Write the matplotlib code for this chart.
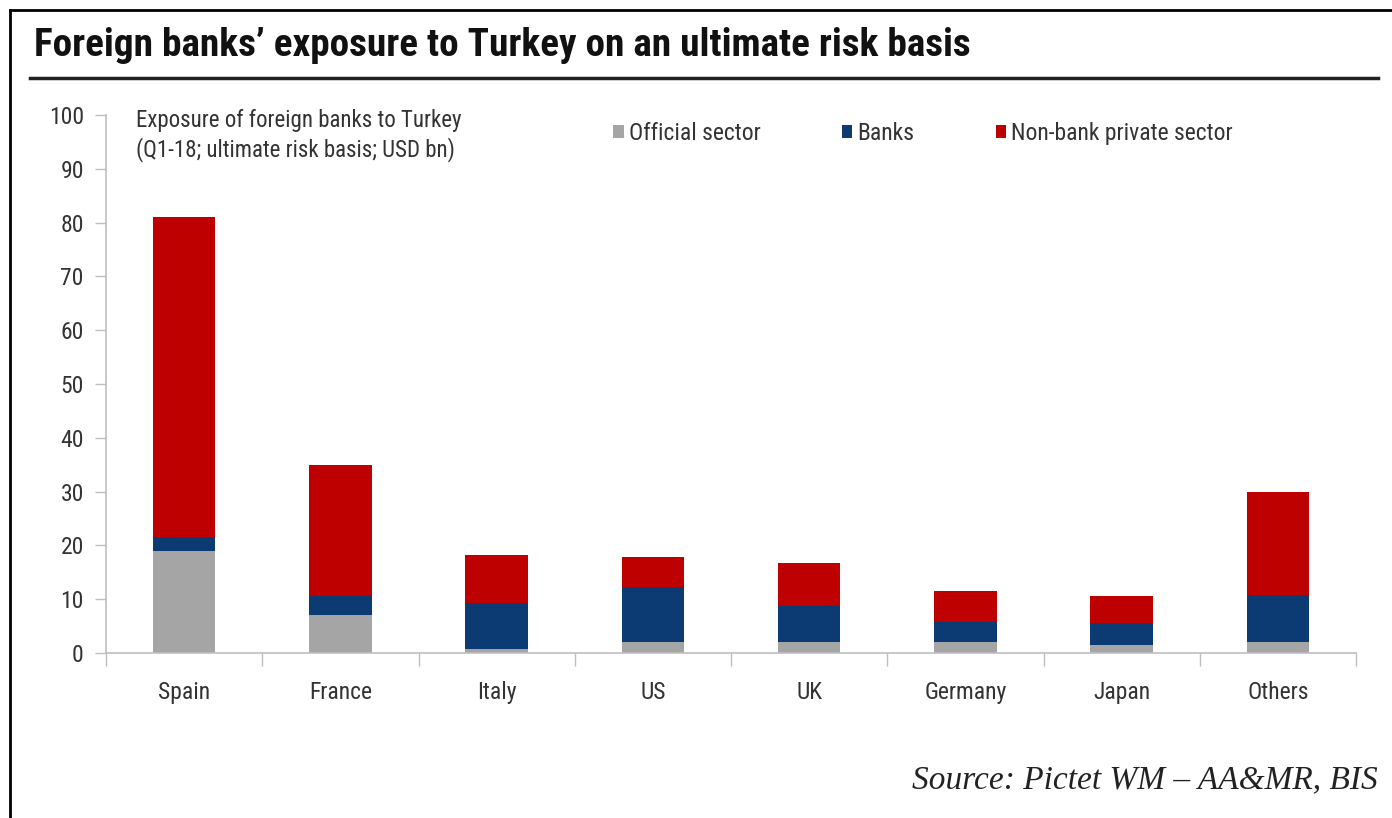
import matplotlib.pyplot as plt
import numpy as np
from matplotlib.lines import Line2D

# exposure of foreign banks to Turkey, Q1-18, USD bn
countries = ["Spain", "France", "Italy", "US", "UK", "Germany", "Japan", "Others"]
official = [19.0, 7.0, 0.8, 2.0, 2.0, 2.0, 1.5, 2.0]
banks = [2.5, 3.6, 8.5, 10.3, 6.7, 3.8, 4.0, 8.8]
nonbank = [59.5, 24.4, 8.9, 5.5, 8.0, 5.7, 5.1, 19.1]
yticks = list(range(0, 101, 10))

c_off = "#A5A5A5"
c_bank = "#0C3A72"
c_nonbank = "#BF0000"
c_text = "#333333"
c_axis = "#BFBFBF"

narrow = ["Roboto Condensed", "DejaVu Sans"]
plt.rcParams["font.stretch"] = "condensed"

fig = plt.figure(figsize=(13.92, 8.18), dpi=100)
ax = fig.add_axes([106 / 1392, 1 - 653 / 818, (1356 - 106) / 1392, (653 - 115) / 818])

x = np.arange(len(countries))
w = 0.4
b1 = ax.bar(x, official, w, color=c_off, label="Official sector")
b2 = ax.bar(x, banks, w, bottom=official, color=c_bank, label="Banks")
bottom2 = np.array(official) + np.array(banks)
b3 = ax.bar(x, nonbank, w, bottom=bottom2, color=c_nonbank, label="Non-bank private sector")

ax.set_xlim(-0.5, len(countries) - 0.5)
ax.set_ylim(0, 100)
ax.set_yticks(yticks)
ax.set_xticks(x)
ax.set_xticklabels(countries, family=narrow, stretch="condensed", fontsize=17, color=c_text)
ax.set_xticks(np.arange(-0.5, len(countries), 1.0), minor=True)
ax.tick_params(axis="x", which="major", length=0, pad=20)
ax.tick_params(axis="x", which="minor", length=9, width=1, color=c_axis)
ax.tick_params(axis="y", length=8, width=1, color=c_axis, pad=8, labelcolor=c_text)
for lab in ax.get_yticklabels():
    lab.set_family(narrow)
    lab.set_stretch("condensed")
    lab.set_fontsize(17)

for s in ["top", "right"]:
    ax.spines[s].set_visible(False)
ax.spines["left"].set_color(c_axis)
ax.spines["bottom"].set_color(c_axis)
ax.spines["left"].set_linewidth(1.2)
ax.spines["bottom"].set_linewidth(1.2)

ax.text(0.024, 1.012, "Exposure of foreign banks to Turkey\n(Q1-18; ultimate risk basis; USD bn)",
        transform=ax.transAxes, ha="left", va="top", family=narrow, stretch="condensed",
        fontsize=16.5, color=c_text, linespacing=1.3)

leg = fig.legend(handles=[b1, b2, b3], loc="upper left", bbox_to_anchor=(592 / 1392, 1 - 101 / 818),
                 ncol=3, frameon=False, handlelength=0.45, handleheight=0.45, handletextpad=0.2,
                 columnspacing=3.45,
                 prop={"family": narrow, "stretch": "condensed", "size": 17})
for t in leg.get_texts():
    t.set_color(c_text)

# title and rule under it
fig.text(34 / 1392, 1 - 46 / 818, "Foreign banks\u2019 exposure to Turkey on an ultimate risk basis",
         ha="left", va="center", family=narrow, stretch="condensed", fontsize=28.3,
         fontweight="bold", color="#111111")
fig.add_artist(Line2D([30 / 1392, 1378 / 1392], [1 - 78 / 818] * 2, transform=fig.transFigure,
                      color="#222222", linewidth=2.5))

# outer frame (top and left edges)
fig.add_artist(Line2D([10 / 1392, 1.0], [1 - 10 / 818] * 2, transform=fig.transFigure,
                      color="black", linewidth=2))
fig.add_artist(Line2D([10 / 1392, 10 / 1392], [0, 1 - 10 / 818], transform=fig.transFigure,
                      color="black", linewidth=2))

fig.text(1378 / 1392, 1 - 780 / 818, "Source: Pictet WM \u2013 AA&MR, BIS", ha="right", va="center",
         family=["Liberation Serif", "DejaVu Serif"], style="italic", fontsize=24, color="#222222")

fig.savefig("out.png", dpi=100)
